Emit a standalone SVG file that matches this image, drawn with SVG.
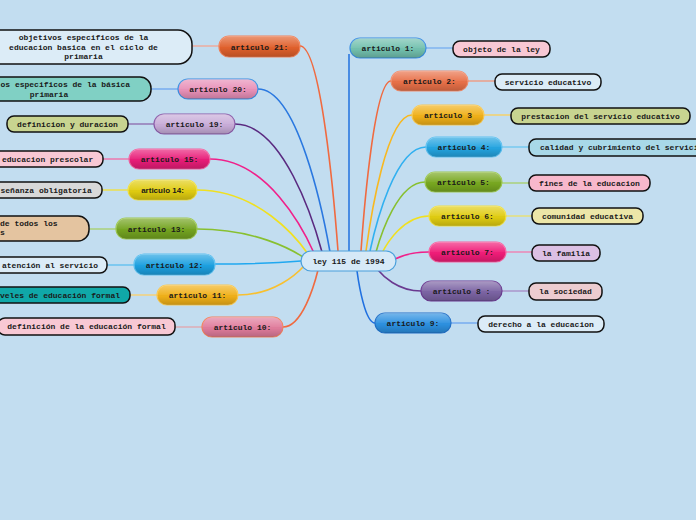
<svg xmlns="http://www.w3.org/2000/svg" width="696" height="520" viewBox="0 0 696 520">
<defs>
<linearGradient id="gloss" x1="0" y1="0" x2="0" y2="1">
<stop offset="0" stop-color="#fff" stop-opacity="0.35"/>
<stop offset="0.5" stop-color="#fff" stop-opacity="0.05"/>
<stop offset="0.55" stop-color="#000" stop-opacity="0"/>
<stop offset="1" stop-color="#000" stop-opacity="0.18"/>
</linearGradient>
</defs>
<style>
.bg{fill:#c2ddf0}
.con{fill:none;stroke-width:1.6}
.lk{fill:none;stroke-width:1.4}
.art rect.b{stroke-width:1.2}
.gl{fill:url(#gloss);stroke:none}
.leaf rect{stroke:#111;stroke-width:1.5}
text{font-family:"Liberation Mono","DejaVu Sans Mono",monospace;font-weight:bold;font-size:8px;fill:#1a1a1a}
.c{text-anchor:middle}
.sans{font-family:"Liberation Sans",Arial,sans-serif;font-size:8px}
</style>
<rect class="bg" x="0" y="0" width="696" height="520"/>

<g id="connectors">
<path class="con" stroke="#2a78e0" d="M349,251 V54"/>
<path class="con" stroke="#f06a40" d="M391,81 C374.5,81 364,208.5 361,251"/>
<path class="con" stroke="#f8b820" d="M412,115 C386.7,115 370.6,217 366,251"/>
<path class="con" stroke="#30b0f0" d="M426,147 C395.2,147 375.6,225 370,251"/>
<path class="con" stroke="#88c030" d="M425,182 C398,182 380.9,234.5 376,252"/>
<path class="con" stroke="#f0e020" d="M429,216 C403.2,216 386.7,243.75 382,253"/>
<path class="con" stroke="#f0208a" d="M429,252 C410.3,252 398.4,257.25 395,259"/>
<path class="con" stroke="#6a3a90" d="M421,291 C397.4,291 382.3,275.25 378,270"/>
<path class="con" stroke="#2070e0" d="M375,323 C365.1,323 358.8,284 357,271"/>
<path class="con" stroke="#f06a40" d="M300,46 C320.9,46 334.2,199.75 338,251"/>
<path class="con" stroke="#2a78e0" d="M258,89 C297.6,89 322.8,211.25 330,252"/>
<path class="con" stroke="#5a2a80" d="M235,124 C282.9,124 313.3,220 322,252"/>
<path class="con" stroke="#f0208a" d="M210,159 C267.2,159 303.6,229.5 314,253"/>
<path class="con" stroke="#f0e020" d="M197,190 C258,190 296.9,238 308,254"/>
<path class="con" stroke="#88c030" d="M197,229 C255.3,229 292.4,250 303,257"/>
<path class="con" stroke="#20a8f0" d="M215,264 C262.3,264 292.4,261.75 301,261"/>
<path class="con" stroke="#f8c030" d="M238,295 C274.3,295 297.4,273.25 304,266"/>
<path class="con" stroke="#f06a40" d="M283,327 C302.3,327 314.5,284.25 318,270"/>
<path class="lk" stroke="#7ab0f0" d="M426,48 H453"/>
<path class="lk" stroke="#f09a80" d="M468,81 H495"/>
<path class="lk" stroke="#f8d060" d="M484,115 H511"/>
<path class="lk" stroke="#70c8f0" d="M502,147 H529"/>
<path class="lk" stroke="#a8d070" d="M502,183 H529"/>
<path class="lk" stroke="#e8e070" d="M506,216 H532"/>
<path class="lk" stroke="#f080b0" d="M506,252 H532"/>
<path class="lk" stroke="#a890c8" d="M502,291 H529"/>
<path class="lk" stroke="#70a8f0" d="M451,323 H478"/>
<path class="lk" stroke="#f0a898" d="M192,46 H219"/>
<path class="lk" stroke="#70a8f0" d="M151,89 H178"/>
<path class="lk" stroke="#9070b0" d="M128,124 H154"/>
<path class="lk" stroke="#f070a8" d="M103,159 H129"/>
<path class="lk" stroke="#f0e040" d="M102,190 H128"/>
<path class="lk" stroke="#a8d070" d="M89,229 H116"/>
<path class="lk" stroke="#60c0f0" d="M107,265 H134"/>
<path class="lk" stroke="#f8d070" d="M130,295 H157"/>
<path class="lk" stroke="#e0a8b0" d="M175,327 H202"/>
</g>

<g id="center">
<rect x="301" y="251" width="95" height="20" rx="10" fill="#d6e9f7" stroke="#4aa0dc" stroke-width="1.2"/>
<text class="c" x="348.5" y="264">ley 115 de 1994</text>
</g>

<g id="a1" class="art"><rect class="b" x="350" y="38" width="76" height="20" rx="10" fill="#72c0ae" stroke="#3a8ee0"/><rect class="gl" x="350" y="38" width="76" height="20" rx="10"/><text class="c" x="388" y="51">articulo 1:</text></g>
<g id="a2" class="art"><rect class="b" x="391" y="71" width="77" height="20" rx="10" fill="#e87048" stroke="#f08c6c"/><rect class="gl" x="391" y="71" width="77" height="20" rx="10"/><text class="c" x="429.5" y="84">articulo 2:</text></g>
<g id="a3" class="art"><rect class="b" x="412" y="105" width="72" height="20" rx="10" fill="#f0b018" stroke="#f8c850"/><rect class="gl" x="412" y="105" width="72" height="20" rx="10"/><text class="c" x="448" y="118">articulo 3</text></g>
<g id="a4" class="art"><rect class="b" x="426" y="137" width="76" height="20" rx="10" fill="#24a4e0" stroke="#5cc0f0"/><rect class="gl" x="426" y="137" width="76" height="20" rx="10"/><text class="c" x="464" y="150">articulo 4:</text></g>
<g id="a5" class="art"><rect class="b" x="425" y="172" width="77" height="20" rx="10" fill="#78a820" stroke="#9cc850"/><rect class="gl" x="425" y="172" width="77" height="20" rx="10"/><text class="c" x="463.5" y="185">articulo 5:</text></g>
<g id="a6" class="art"><rect class="b" x="429" y="206" width="77" height="20" rx="10" fill="#e0cc10" stroke="#f0e040"/><rect class="gl" x="429" y="206" width="77" height="20" rx="10"/><text class="c" x="467.5" y="219">articulo 6:</text></g>
<g id="a7" class="art"><rect class="b" x="429" y="242" width="77" height="20" rx="10" fill="#f01c78" stroke="#f860a0"/><rect class="gl" x="429" y="242" width="77" height="20" rx="10"/><text class="c" x="467.5" y="255">articulo 7:</text></g>
<g id="a8" class="art"><rect class="b" x="421" y="281" width="81" height="20" rx="10" fill="#7c64a4" stroke="#6a3a90"/><rect class="gl" x="421" y="281" width="81" height="20" rx="10"/><text class="c" x="461.5" y="294">articulo 8 :</text></g>
<g id="a9" class="art"><rect class="b" x="375" y="313" width="76" height="20" rx="10" fill="#2c90e0" stroke="#2070c8"/><rect class="gl" x="375" y="313" width="76" height="20" rx="10"/><text class="c" x="413" y="326">articulo 9:</text></g>

<g id="a21" class="art"><rect class="b" x="219" y="36" width="81" height="21" rx="10" fill="#e0602c" stroke="#f08058"/><rect class="gl" x="219" y="36" width="81" height="21" rx="10"/><text class="c" x="259.5" y="49.5">articulo 21:</text></g>
<g id="a20" class="art"><rect class="b" x="178" y="79" width="80" height="20" rx="10" fill="#e890b8" stroke="#3a8ee0"/><rect class="gl" x="178" y="79" width="80" height="20" rx="10"/><text class="c" x="218" y="92">articulo 20:</text></g>
<g id="a19" class="art"><rect class="b" x="154" y="114" width="81" height="20" rx="10" fill="#c8acd8" stroke="#8a5aa8"/><rect class="gl" x="154" y="114" width="81" height="20" rx="10"/><text class="c" x="194.5" y="127">articulo 19:</text></g>
<g id="a15" class="art"><rect class="b" x="129" y="149" width="81" height="20" rx="10" fill="#e81c78" stroke="#f060a0"/><rect class="gl" x="129" y="149" width="81" height="20" rx="10"/><text class="c" x="169.5" y="162">articulo 15:</text></g>
<g id="a14" class="art"><rect class="b" x="128" y="180" width="69" height="20" rx="10" fill="#e0cc10" stroke="#f0e040"/><rect class="gl" x="128" y="180" width="69" height="20" rx="10"/><text class="c sans" x="162.5" y="193">articulo 14:</text></g>
<g id="a13" class="art"><rect class="b" x="116" y="218" width="81" height="21" rx="10" fill="#74a420" stroke="#9cc850"/><rect class="gl" x="116" y="218" width="81" height="21" rx="10"/><text class="c" x="156.5" y="231.5">articulo 13:</text></g>
<g id="a12" class="art"><rect class="b" x="134" y="254" width="81" height="21" rx="10" fill="#1ca0e0" stroke="#5cc0f0"/><rect class="gl" x="134" y="254" width="81" height="21" rx="10"/><text class="c" x="174.5" y="267.5">articulo 12:</text></g>
<g id="a11" class="art"><rect class="b" x="157" y="285" width="81" height="20" rx="10" fill="#f0b018" stroke="#f8c850"/><rect class="gl" x="157" y="285" width="81" height="20" rx="10"/><text class="c" x="197.5" y="298">articulo 11:</text></g>
<g id="a10" class="art"><rect class="b" x="202" y="317" width="81" height="20" rx="10" fill="#e07c9c" stroke="#f08060"/><rect class="gl" x="202" y="317" width="81" height="20" rx="10"/><text class="c" x="242.5" y="330">articulo 10:</text></g>

<g id="l1" class="leaf"><rect x="453" y="41" width="97" height="16" rx="7" fill="#f8c8d4"/><text class="c" x="501.5" y="51.5">objeto de la ley</text></g>
<g id="l2" class="leaf"><rect x="495" y="74" width="106" height="16" rx="7" fill="#dcecf7"/><text class="c" x="548" y="84.5">servicio educativo</text></g>
<g id="l3" class="leaf"><rect x="511" y="108" width="179" height="16" rx="7" fill="#c8d490"/><text class="c" x="600.5" y="118.5">prestacion del servicio educativo</text></g>
<g id="l4" class="leaf"><rect x="529" y="139" width="180" height="17" rx="7" fill="#a8d8e8"/><text x="540" y="150">calidad y cubrimiento del servicio</text></g>
<g id="l5" class="leaf"><rect x="529" y="175" width="121" height="16" rx="7" fill="#f8b8cc"/><text class="c" x="589.5" y="185.5">fines de la educacion</text></g>
<g id="l6" class="leaf"><rect x="532" y="208" width="111" height="16" rx="7" fill="#ece6a8"/><text class="c" x="587.5" y="218.5">comunidad educativa</text></g>
<g id="l7" class="leaf"><rect x="532" y="245" width="68" height="16" rx="7" fill="#dcc0e4"/><text class="c" x="566" y="255.5">la familia</text></g>
<g id="l8" class="leaf"><rect x="529" y="283" width="73" height="17" rx="7" fill="#ecccd0"/><text class="c" x="565.5" y="294">la sociedad</text></g>
<g id="l9" class="leaf"><rect x="478" y="316" width="126" height="16" rx="7" fill="#dcecf7"/><text class="c" x="541" y="326.5">derecho a la educacion</text></g>

<g id="l21" class="leaf"><rect x="-25" y="30" width="217" height="34" rx="14" fill="#dcecf7"/><text class="c" x="83.5" y="40">objetivos especificos de la</text><text class="c" x="83.5" y="49.5">educacion basica en el ciclo de</text><text class="c" x="83.5" y="59">primaria</text></g>
<g id="l20" class="leaf"><rect x="-60" y="77" width="211" height="24" rx="11" fill="#80d0c4"/><text x="0.5" y="87">os especificos de la básica</text><text class="c" x="49" y="96.5">primaria</text></g>
<g id="l19" class="leaf"><rect x="7" y="116" width="121" height="16" rx="7" fill="#c8d490"/><text class="c" x="67.5" y="126.5">definicion y duracion</text></g>
<g id="l15" class="leaf"><rect x="-40" y="151" width="143" height="16" rx="7" fill="#f8c8d4"/><text x="2" y="161.5">educacion prescolar</text></g>
<g id="l14" class="leaf"><rect x="-40" y="182" width="142" height="16" rx="7" fill="#d8d8d8"/><text x="0.5" y="192.5">señanza obligatoria</text></g>
<g id="l13" class="leaf"><rect x="-40" y="216" width="129" height="25" rx="11" fill="#e4c4a0"/><text x="0" y="226">de todos los</text><text x="0" y="235">s</text></g>
<g id="l12" class="leaf"><rect x="-8" y="257" width="115" height="16" rx="7" fill="#dcecf7"/><text x="2" y="267.5">atención al servicio</text></g>
<g id="l11" class="leaf"><rect x="-40" y="287" width="170" height="16" rx="7" fill="#10a8a8"/><text x="0" y="297.5">veles de educación formal</text></g>
<g id="l10" class="leaf"><rect x="-2" y="318" width="177" height="17" rx="7" fill="#f8c8d4"/><text class="c" x="86.5" y="329">definición de la educación formal</text></g>
</svg>
